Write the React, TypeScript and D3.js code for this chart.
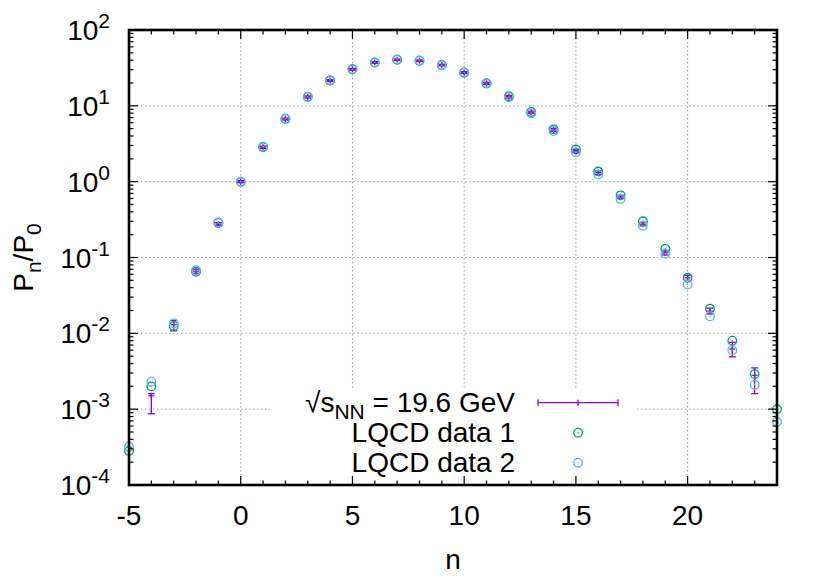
import React from "react";
import * as d3 from "d3";

// ---- data ----
const nValues = [-5, -4, -3, -2, -1, 0, 1, 2, 3, 4, 5, 6, 7, 8, 9, 10, 11, 12, 13, 14, 15, 16, 17, 18, 19, 20, 21, 22, 23, 24];
const lqcd1 = [0.00028, 0.0020, 0.0125, 0.065, 0.285, 1.0, 2.85, 6.7, 13.1, 21.5, 30.3, 37.3, 40.5, 39.3, 34.6, 27.5, 19.9, 13.4, 8.3, 4.9, 2.65, 1.36, 0.66, 0.30, 0.13, 0.054, 0.0212, 0.0080, 0.0029, 0.0010];
const lqcd2 = [0.00032, 0.0023, 0.0135, 0.068, 0.29, 1.0, 2.9, 6.8, 13.2, 21.8, 30.6, 37.5, 40.8, 39.6, 34.3, 27.2, 19.6, 13.0, 8.0, 4.65, 2.45, 1.24, 0.59, 0.262, 0.112, 0.044, 0.0168, 0.0060, 0.0021, 0.00068];
const expN = [-4, -3, -2, -1, 0, 1, 2, 3, 4, 5, 6, 7, 8, 9, 10, 11, 12, 13, 14, 15, 16, 17, 18, 19, 20, 21, 22, 23];
const expVal = [0.0015, 0.013, 0.066, 0.275, 1.0, 2.85, 6.7, 13.1, 21.5, 30.3, 37.3, 40.5, 39.3, 34.5, 27.4, 19.8, 13.2, 8.2, 4.8, 2.55, 1.32, 0.63, 0.275, 0.115, 0.054, 0.0196, 0.0062, 0.0028];
const expLo = [0.00087, 0.0108, 0.062, 0.262, 0.97, 2.75, 6.5, 12.7, 20.9, 29.5, 36.4, 39.6, 38.4, 33.6, 26.6, 19.1, 12.7, 7.9, 4.6, 2.45, 1.25, 0.60, 0.262, 0.108, 0.050, 0.0180, 0.0049, 0.0016];
const expHi = [0.0016, 0.0148, 0.070, 0.288, 1.03, 2.95, 6.9, 13.5, 22.1, 31.1, 38.2, 41.4, 40.2, 35.4, 28.2, 20.5, 13.7, 8.5, 5.0, 2.65, 1.39, 0.66, 0.29, 0.122, 0.058, 0.0215, 0.0076, 0.0035];
const xTicks = [-5, 0, 5, 10, 15, 20];
const yExponents = [-4, -3, -2, -1, 0, 1, 2];
const legendLabels = ["LQCD data 1", "LQCD data 2"];

const W = 830, H = 581;
const L = 129, R = 777, T = 30, B = 485;
const FONT = "'Liberation Sans', Arial, sans-serif";
const PURPLE = "#9400d3", GREEN = "#009e73", BLUE = "#56b4e9";

export default function App() {
  const x = d3.scaleLinear().domain([-5, 24]).range([L, R]);
  const y = d3.scaleLog().domain([1e-4, 1e2]).range([B, T]);

  const minorY: number[] = [];
  for (let e = -4; e < 2; e++) for (let m = 2; m <= 9; m++) minorY.push(m * Math.pow(10, e));
  const minorX = d3.range(-5, 25);

  const circle = (cx: number, cy: number, color: string, key: string) => (
    <g key={key}>
      <circle cx={cx} cy={cy} r={4.3} fill="none" stroke={color} strokeWidth={1.3} />
      <circle cx={cx} cy={cy} r={0.8} fill={color} />
    </g>
  );

  const legY = [402.7, 432.7, 462.7];

  return (
    <svg width={W} height={H} style={{ position: "absolute", left: 0, top: 0, background: "#fff" }} fontFamily={FONT}>
      <rect x={0} y={0} width={W} height={H} fill="#fff" />
      {/* grid */}
      <g stroke="#a0a0a0" strokeWidth={1} strokeDasharray="1.5,2.5">
        {xTicks.filter(t => t > -5).map(t => (
          <line key={"gx" + t} x1={x(t)} x2={x(t)} y1={T} y2={B} />
        ))}
        {yExponents.filter(e => e > -4 && e < 2).map(e => (
          <line key={"gy" + e} x1={L} x2={R} y1={y(Math.pow(10, e))} y2={y(Math.pow(10, e))} />
        ))}
      </g>
      {/* legend box */}
      <rect x={270} y={388} width={366} height={B - 388} fill="#fff" />
      {/* error bars */}
      <g stroke={PURPLE} strokeWidth={1.3} fill="none">
        {expN.map((n, i) => {
          const cx = x(n), cy = y(expVal[i]), lo = y(expLo[i]), hi = y(expHi[i]);
          return (
            <g key={"e" + n}>
              <line x1={cx} x2={cx} y1={lo} y2={hi} />
              <line x1={cx - 3.5} x2={cx + 3.5} y1={lo} y2={lo} />
              <line x1={cx - 3.5} x2={cx + 3.5} y1={hi} y2={hi} />
              <line x1={cx - 3} x2={cx + 3} y1={cy} y2={cy} />
              <line x1={cx} x2={cx} y1={cy - 3} y2={cy + 3} />
            </g>
          );
        })}
      </g>
      {nValues.map((n, i) => circle(x(n), y(lqcd1[i]), GREEN, "g" + n))}
      {nValues.map((n, i) => circle(x(n), y(lqcd2[i]), BLUE, "b" + n))}
      {/* legend */}
      <g fontSize={28} fill="#000" textAnchor="end">
        <text x={515} y={legY[0] + 9.5}>
          √s<tspan fontSize={21} dy={7}>NN</tspan><tspan dy={-7}> = 19.6 GeV</tspan>
        </text>
        <text x={515} y={legY[1] + 9.5}>{legendLabels[0]}</text>
        <text x={515} y={legY[2] + 9.5}>{legendLabels[1]}</text>
      </g>
      <g stroke={PURPLE} strokeWidth={1.3}>
        <line x1={538} x2={618} y1={legY[0]} y2={legY[0]} />
        <line x1={538} x2={538} y1={legY[0] - 3.5} y2={legY[0] + 3.5} />
        <line x1={618} x2={618} y1={legY[0] - 3.5} y2={legY[0] + 3.5} />
        <line x1={578} x2={578} y1={legY[0] - 3} y2={legY[0] + 3} />
      </g>
      {circle(578, legY[1], GREEN, "lg")}
      {circle(578, legY[2], BLUE, "lb")}
      {/* ticks */}
      <g stroke="#000" strokeWidth={1.2}>
        {minorX.map(t => {
          const len = t % 5 === 0 ? 9 : 4.5;
          return (
            <g key={"tx" + t}>
              <line x1={x(t)} x2={x(t)} y1={B} y2={B - len} />
              <line x1={x(t)} x2={x(t)} y1={T} y2={T + len} />
            </g>
          );
        })}
        {yExponents.map(e => (
          <g key={"ty" + e}>
            <line x1={L} x2={L + 9} y1={y(Math.pow(10, e))} y2={y(Math.pow(10, e))} />
            <line x1={R} x2={R - 9} y1={y(Math.pow(10, e))} y2={y(Math.pow(10, e))} />
          </g>
        ))}
        {minorY.map((v, i) => (
          <g key={"my" + i}>
            <line x1={L} x2={L + 4.5} y1={y(v)} y2={y(v)} />
            <line x1={R} x2={R - 4.5} y1={y(v)} y2={y(v)} />
          </g>
        ))}
      </g>
      <rect x={L} y={T} width={R - L} height={B - T} fill="none" stroke="#000" strokeWidth={2.6} />
      {/* tick labels */}
      <g fontSize={28} fill="#000" textAnchor="middle">
        {xTicks.map(t => (
          <text key={"lx" + t} x={x(t)} y={525}>{String(t)}</text>
        ))}
      </g>
      <g fontSize={28} fill="#000" textAnchor="end">
        {yExponents.map(e => (
          <text key={"ly" + e} x={110} y={y(Math.pow(10, e)) + 10}>
            10<tspan fontSize={21} dy={-12}>{String(e)}</tspan>
          </text>
        ))}
      </g>
      {/* axis labels */}
      <text x={(L + R) / 2} y={569} fontSize={28} textAnchor="middle">n</text>
      <text transform={`translate(33, ${(T + B) / 2}) rotate(-90)`} fontSize={28} textAnchor="middle">
        P<tspan fontSize={21} dy={8}>n</tspan><tspan dy={-8}>/P</tspan><tspan fontSize={21} dy={8}>0</tspan>
      </text>
    </svg>
  );
}
